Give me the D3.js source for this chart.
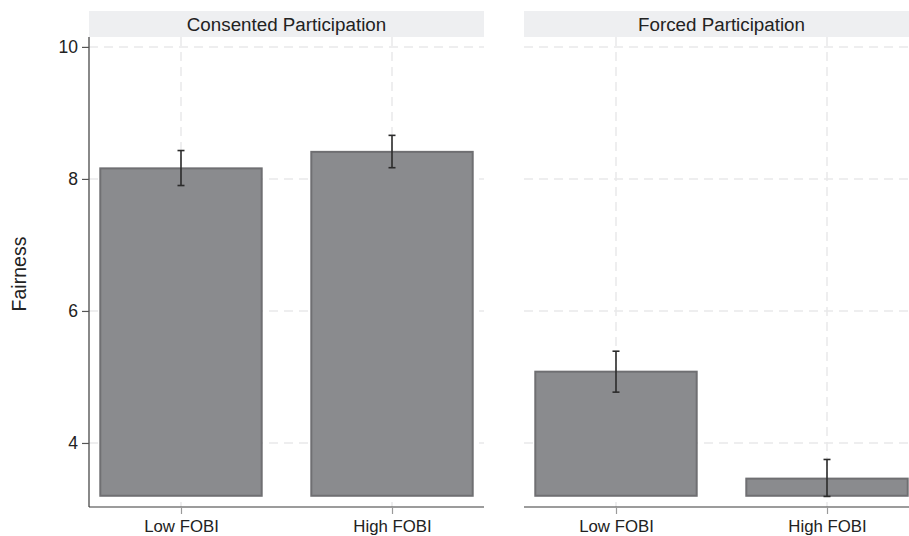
<!DOCTYPE html>
<html>
<head>
<meta charset="utf-8">
<script src="https://cdn.jsdelivr.net/npm/d3@7"></script>
<style>
  html, body { margin: 0; padding: 0; background: #fff; }
  svg { display: block; font-family: "Liberation Sans", Arial, Helvetica, sans-serif; }
</style>
</head>
<body>
<svg id="chart" width="909" height="536"></svg>
<script>
// Panel (facet) names and the x categories within each panel
const panels = ["Consented Participation", "Forced Participation"];
const categories = ["Low FOBI", "High FOBI"];

// Mean fairness and 95% interval bounds, one entry per category, per panel
const consentedMeans = [8.16, 8.41];
const consentedLower = [7.90, 8.17];
const consentedUpper = [8.43, 8.66];
const forcedMeans = [5.08, 3.46];
const forcedLower = [4.77, 3.19];
const forcedUpper = [5.39, 3.75];

// Bars rise from this floor value
const barBase = 3.2;
const yTicks = [4, 6, 8, 10];

const panelData = [
  categories.map((c, i) => ({ cat: c, mean: consentedMeans[i], lo: consentedLower[i], hi: consentedUpper[i] })),
  categories.map((c, i) => ({ cat: c, mean: forcedMeans[i], lo: forcedLower[i], hi: forcedUpper[i] }))
];

const svg = d3.select("#chart");

const plotTop = 37, plotBottom = 507;
const panelWidth = 395;
const panelLefts = [89, 524];
const stripTop = 11;

const y = d3.scaleLinear().domain([3.03, 10.15]).range([plotBottom, plotTop]);
const x = d3.scalePoint().domain(categories).range([0, panelWidth]).padding(0.436);
const barWidth = x.step() * 0.765;

const gridColor = "#e9e9ea";

panels.forEach((name, p) => {
  const g = svg.append("g").attr("transform", `translate(${panelLefts[p]},0)`);

  // strip header
  g.append("rect")
    .attr("x", 0).attr("y", stripTop)
    .attr("width", panelWidth).attr("height", plotTop - stripTop)
    .attr("fill", "#eeeff1");
  g.append("text")
    .attr("x", panelWidth / 2).attr("y", (stripTop + plotTop) / 2)
    .attr("dy", "0.36em")
    .attr("text-anchor", "middle")
    .attr("font-size", 18.8)
    .attr("fill", "#222")
    .text(name);

  // dashed grid
  g.selectAll("line.hgrid").data(yTicks).join("line")
    .attr("class", "hgrid")
    .attr("x1", 0).attr("x2", panelWidth)
    .attr("y1", d => y(d)).attr("y2", d => y(d))
    .attr("stroke", gridColor).attr("stroke-width", 1.5)
    .attr("stroke-dasharray", "9,6");
  g.selectAll("line.vgrid").data(categories).join("line")
    .attr("class", "vgrid")
    .attr("x1", d => x(d)).attr("x2", d => x(d))
    .attr("y1", plotTop).attr("y2", plotBottom)
    .attr("stroke", gridColor).attr("stroke-width", 1.5)
    .attr("stroke-dasharray", "9,6");

  // bars
  g.selectAll("rect.bar").data(panelData[p]).join("rect")
    .attr("class", "bar")
    .attr("x", d => x(d.cat) - barWidth / 2)
    .attr("width", barWidth)
    .attr("y", d => y(d.mean))
    .attr("height", d => y(barBase) - y(d.mean))
    .attr("fill", "#8a8b8e")
    .attr("stroke", "#6f6f72")
    .attr("stroke-width", 2);

  // error bars
  const eb = g.selectAll("g.err").data(panelData[p]).join("g").attr("class", "err")
    .attr("stroke", "#2b2b2b").attr("stroke-width", 1.6);
  eb.append("line")
    .attr("x1", d => x(d.cat)).attr("x2", d => x(d.cat))
    .attr("y1", d => y(d.lo)).attr("y2", d => y(d.hi));
  eb.append("line")
    .attr("x1", d => x(d.cat) - 3.5).attr("x2", d => x(d.cat) + 3.5)
    .attr("y1", d => y(d.hi)).attr("y2", d => y(d.hi));
  eb.append("line")
    .attr("x1", d => x(d.cat) - 3.5).attr("x2", d => x(d.cat) + 3.5)
    .attr("y1", d => y(d.lo)).attr("y2", d => y(d.lo));

  // x axis
  const xAxis = g.append("g")
    .attr("transform", `translate(0,${plotBottom})`)
    .call(d3.axisBottom(x).tickSize(7).tickPadding(6));
  xAxis.select(".domain").attr("stroke", "#3a3a3a").attr("stroke-width", 1.2)
    .attr("d", `M0,0H${panelWidth}`);
  xAxis.selectAll(".tick line").attr("stroke", "#9a9a9a").attr("stroke-width", 1.2);
  xAxis.selectAll(".tick text")
    .attr("font-size", 16.8).attr("fill", "#222")
    .attr("font-family", "'Liberation Sans', Arial, sans-serif");

  // y axis on first panel only
  if (p === 0) {
    const yAxis = g.append("g")
      .call(d3.axisLeft(y).tickValues(yTicks).tickSize(7).tickPadding(4));
    yAxis.select(".domain").attr("stroke", "#3a3a3a").attr("stroke-width", 1.2)
      .attr("d", `M0,${plotTop}V${plotBottom}`);
    yAxis.selectAll(".tick line").attr("stroke", "#555").attr("stroke-width", 1.2);
    yAxis.selectAll(".tick text")
      .attr("font-size", 17.5).attr("fill", "#222")
      .attr("font-family", "'Liberation Sans', Arial, sans-serif");
  }
});

// y axis title
svg.append("text")
  .attr("transform", "translate(26,274) rotate(-90)")
  .attr("text-anchor", "middle")
  .attr("font-size", 19.5)
  .attr("fill", "#222")
  .text("Fairness");
</script>
</body>
</html>
